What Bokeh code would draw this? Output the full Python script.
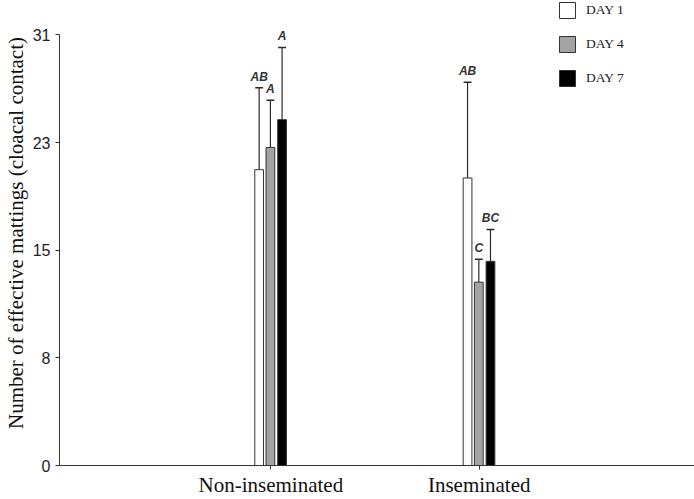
from bokeh.plotting import figure
from bokeh.models import (Range1d, FixedTicker, Legend, LegendItem, ColumnDataSource)
from bokeh.core.properties import value
from bokeh.embed import file_html
from bokeh.resources import INLINE

groups = ["Non-inseminated", "Inseminated"]
days = ["DAY 1", "DAY 4", "DAY 7"]
means = {
    "DAY 1": [21.3, 20.7],
    "DAY 4": [22.9, 13.2],
    "DAY 7": [24.9, 14.7],
}
errors = {
    "DAY 1": [5.9, 6.9],
    "DAY 4": [3.4, 1.65],
    "DAY 7": [5.2, 2.3],
}
letters = {
    "DAY 1": ["AB", "AB"],
    "DAY 4": ["A", "C"],
    "DAY 7": ["A", "BC"],
}
y_ticks = [0, 7.75, 15.5, 23.25, 31]
y_tick_labels = ["0", "8", "15", "23", "31"]

fills = {"DAY 1": "#ffffff", "DAY 4": "#a3a3a3", "DAY 7": "#000000"}
offsets = {"DAY 1": -0.056, "DAY 4": -0.002, "DAY 7": 0.054}
bar_w = 0.042
cap_w = 0.038

p = figure(width=694, height=499, output_backend="svg", toolbar_location=None,
           x_range=Range1d(-0.014, 3.033), y_range=Range1d(0, 33.48),
           min_border_left=56, min_border_right=0, min_border_top=0,
           min_border_bottom=33)
p.outline_line_color = None
p.xgrid.visible = False
p.ygrid.visible = False
p.background_fill_color = "white"
p.border_fill_color = "white"

pos = [1, 2]
legend_items = []
for d in days:
    xs = [x + offsets[d] for x in pos]
    tops = means[d]
    ups = [m + e for m, e in zip(means[d], errors[d])]
    src = ColumnDataSource(dict(x=xs, top=tops, up=ups, lab=letters[d]))
    p.segment(x0="x", y0="top", x1="x", y1="up", source=src,
              line_color="#2a2a2a", line_width=1.2)
    cx0 = [x - cap_w / 2 for x in xs]
    cx1 = [x + cap_w / 2 for x in xs]
    p.segment(x0=cx0, y0=ups, x1=cx1, y1=ups, line_color="#2a2a2a", line_width=1.5)
    r = p.vbar(x="x", top="top", bottom=0, width=bar_w, source=src,
               fill_color=fills[d], line_color="#333333", line_width=1)
    p.text(x="x", y="up", text="lab", source=src, text_align="center",
           text_baseline="bottom", y_offset=-4,
           text_font=value("Liberation Sans"), text_font_style="bold italic",
           text_font_size="12px", text_color="#333333")
    legend_items.append(LegendItem(label=d, renderers=[r]))

legend = Legend(items=legend_items, location=(498, 377),
                padding=0, margin=0, spacing=14, glyph_width=20,
                glyph_height=20, label_height=20, label_standoff=9,
                border_line_alpha=0, background_fill_alpha=0,
                label_text_font="Liberation Serif", label_text_font_size="13.5px",
                label_text_color="#222222")
p.add_layout(legend, "center")

p.yaxis.ticker = FixedTicker(ticks=y_ticks)
p.yaxis.major_label_overrides = {t: l for t, l in zip(y_ticks, y_tick_labels)}
p.yaxis.bounds = (0, 31)
p.yaxis.minor_tick_line_color = None
p.yaxis.major_tick_in = 0
p.yaxis.major_tick_out = 4
p.yaxis.major_label_text_font = "Liberation Sans"
p.yaxis.major_label_text_font_size = "16px"
p.yaxis.major_label_text_color = "#222222"
p.yaxis.major_label_standoff = 5
p.yaxis.axis_label = "Number of effective mattings (cloacal contact)"
p.yaxis.axis_label_text_font = "Liberation Serif"
p.yaxis.axis_label_text_font_style = "normal"
p.yaxis.axis_label_text_font_size = "21px"
p.yaxis.axis_label_text_color = "#111111"
p.yaxis.axis_label_standoff = 2
p.yaxis.axis_line_color = "#333333"
p.yaxis.major_tick_line_color = "#333333"

p.xaxis.ticker = FixedTicker(ticks=pos)
p.xaxis.major_label_overrides = {1: groups[0], 2: groups[1]}
p.xaxis.minor_tick_line_color = None
p.xaxis.major_tick_in = 0
p.xaxis.major_tick_out = 4
p.xaxis.major_label_text_font = "Liberation Serif"
p.xaxis.major_label_text_font_size = "21px"
p.xaxis.major_label_text_color = "#111111"
p.xaxis.major_label_standoff = 3
p.xaxis.axis_line_color = "#333333"
p.xaxis.major_tick_line_color = "#333333"

open("out.html", "w").write(file_html(p, INLINE))
